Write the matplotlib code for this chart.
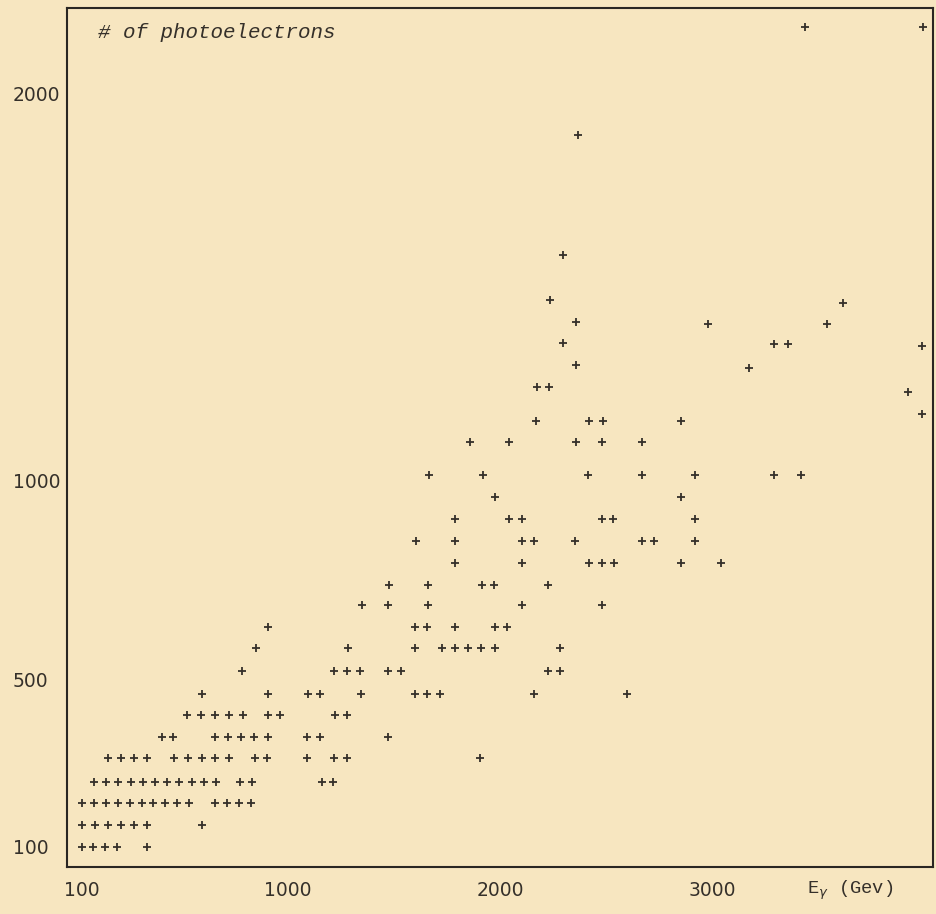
import numpy as np
import matplotlib
matplotlib.use('Agg')
import matplotlib.pyplot as plt

# ------------------------------------------------------
# Data: one entry per printed row of "+"
rows_pe = [100, 153, 205, 256, 313, 363, 416, 466, 522, 580, 632, 688, 738,
           792, 848, 902, 958, 1013, 1098, 1152, 1171, 1227, 1240, 1297, 1289,
           1354, 1351, 1346, 1408, 1403, 1465, 1457, 1581, 1891, 2170]
rows_gev = [
    [100, 148, 200, 253, 384],
    [100, 157, 214, 270, 327, 384, 624],
    [100, 152, 205, 257, 310, 362, 410, 463, 515, 567, 681, 734, 786, 838],
    [152, 205, 257, 314, 367, 419, 471, 524, 581, 633, 685, 790, 843, 1160, 1211],
    [214, 270, 327, 384, 502, 563, 624, 681, 742, 856, 908, 1089, 1216, 1277, 1901],
    [450, 498, 681, 738, 795, 851, 913, 1089, 1150, 1470],
    [559, 620, 681, 742, 803, 913, 965, 1221, 1277],
    [624, 913, 1094, 1150, 1343, 1596, 1653, 1714, 2156, 2594],
    [799, 1216, 1277, 1338, 1470, 1531, 2222, 2278],
    [860, 1282, 1596, 1723, 1784, 1845, 1906, 1972, 2278],
    [913, 1596, 1653, 1784, 1972, 2028],
    [1347, 1470, 1657, 2099, 2476],
    [1474, 1657, 1911, 1967, 2222],
    [1784, 2099, 2415, 2476, 2533, 2849, 3038],
    [1601, 1784, 2099, 2156, 2349, 2665, 2722, 2915],
    [1784, 2038, 2099, 2476, 2528, 2915],
    [1972, 2849],
    [1662, 1916, 2410, 2665, 2915, 3288, 3415],
    [1855, 2038, 2354, 2476, 2665],
    [2165, 2415, 2481, 2849],
    [3986],
    [3920],
    [2170, 2226],
    [2354],
    [3170],
    [2292],
    [3292, 3354],
    [3986],
    [2354],
    [2976, 3542],
    [2231],
    [3613],
    [2292],
    [2363],
    [3434, 3995],
]

x_ticks = [100, 1000, 2000, 3000]
y_ticks = [100, 500, 1000, 2000]

# the hand-lettered axes are not quite linear: calibration value -> position
x_cal_val = [0, 100, 1000, 2000, 3000, 5000]
x_cal_pos = [59.1, 82, 288, 501, 713, 1137]
y_cal_val = [0, 100, 500, 1000, 2000, 3000]
y_cal_pos = [-888.75, -847, -680, -480, -93, 294]

def fwd_x(v):
	return np.interp(v, x_cal_val, x_cal_pos)
def inv_x(p):
	return np.interp(p, x_cal_pos, x_cal_val)
def fwd_y(v):
	return np.interp(v, y_cal_val, y_cal_pos)
def inv_y(p):
	return np.interp(p, y_cal_pos, y_cal_val)

x = np.concatenate([np.array(r, float) for r in rows_gev])
y = np.concatenate([np.full(len(r), pe, float) for r, pe in zip(rows_gev, rows_pe)])

paper = '#f7e6c0'
ink = '#35302a'

fig = plt.figure(figsize=(9.36, 9.14), dpi=100, facecolor=paper)
ax = fig.add_axes([67/936, 47/914, 866/936, 859/914], facecolor=paper)
ax.set_xscale('function', functions=(fwd_x, inv_x))
ax.set_yscale('function', functions=(fwd_y, inv_y))

ax.plot(x, y, '+', color=ink, markersize=6, markeredgewidth=1.3)

ax.set_xlim(35, 4040)
ax.set_ylim(52, 2220)

ax.set_xticks(x_ticks, labels=[str(t) for t in x_ticks])
ax.set_yticks(y_ticks, labels=[str(t) for t in y_ticks])
ax.minorticks_off()
ax.tick_params(axis='x', length=0, pad=10, labelsize=13.5, labelcolor=ink)
ax.tick_params(axis='y', length=0, pad=39, labelsize=13.5, labelcolor=ink)
for lab in ax.get_yticklabels():
	lab.set_horizontalalignment('left')

for s in ax.spines.values():
	s.set_color('#2a2622')
	s.set_linewidth(1.5)

ax.text(0.0358, 0.972, '# of photoelectrons', transform=ax.transAxes,
        fontsize=15, family='Liberation Mono', style='italic', color=ink,
        ha='left', va='center')
ax.text(0.8545, -0.027, r'E$_\gamma$ (Gev)', transform=ax.transAxes,
        fontsize=13.5, family='Liberation Mono', color=ink,
        ha='left', va='center')

fig.savefig('out.png', dpi=100, facecolor=paper)
